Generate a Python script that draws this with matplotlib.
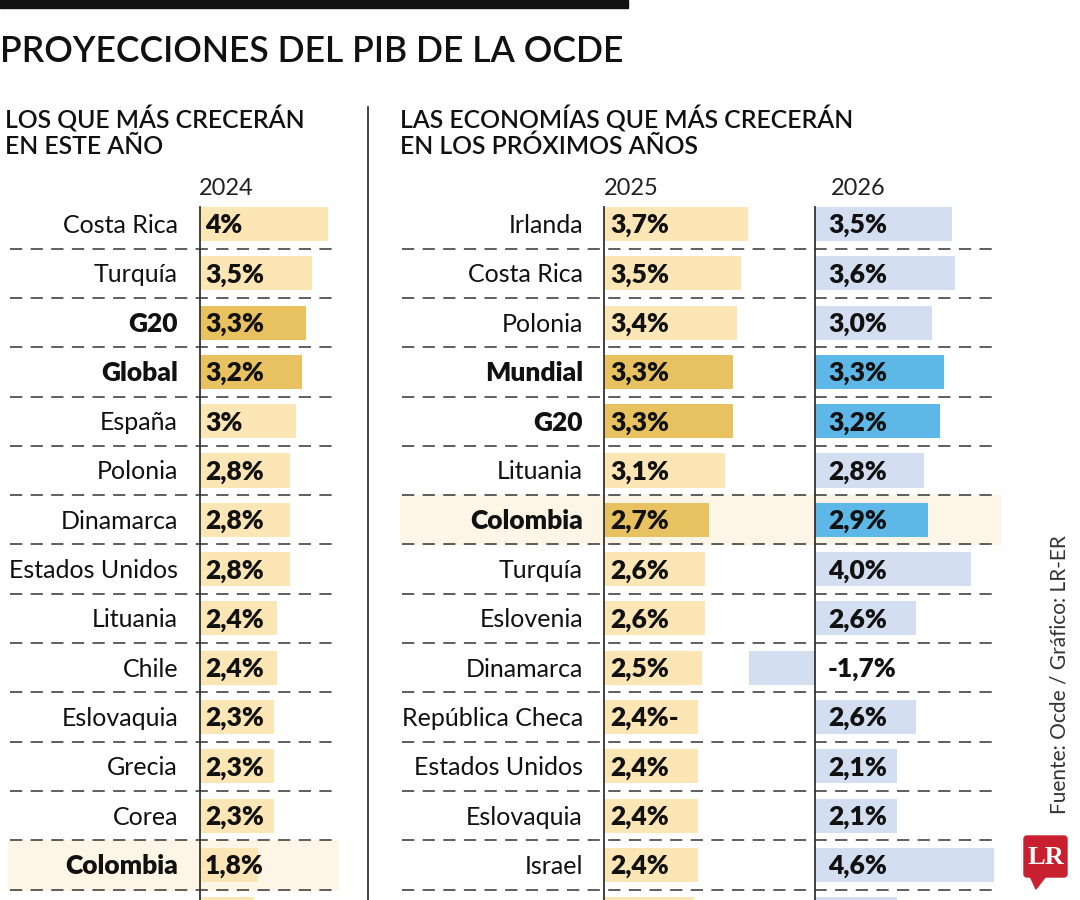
import matplotlib.pyplot as plt
from matplotlib import transforms
from matplotlib.patches import FancyBboxPatch, Polygon, Rectangle

plt.rcParams['font.family'] = ['Lato', 'DejaVu Sans']

# ---- data ----
left_names = ["Costa Rica", "Turquía", "G20", "Global", "España", "Polonia", "Dinamarca",
              "Estados Unidos", "Lituania", "Chile", "Eslovaquia", "Grecia", "Corea",
              "Colombia", ""]
left_2024 = [4.0, 3.5, 3.3, 3.2, 3.0, 2.8, 2.8, 2.8, 2.4, 2.4, 2.3, 2.3, 2.3, 1.8, 1.7]
left_text = ["4%", "3,5%", "3,3%", "3,2%", "3%", "2,8%", "2,8%", "2,8%", "2,4%", "2,4%",
             "2,3%", "2,3%", "2,3%", "1,8%", ""]
left_bold = ["G20", "Global", "Colombia"]
left_gold = ["G20", "Global"]

right_names = ["Irlanda", "Costa Rica", "Polonia", "Mundial", "G20", "Lituania", "Colombia",
               "Turquía", "Eslovenia", "Dinamarca", "República Checa", "Estados Unidos",
               "Eslovaquia", "Israel", ""]
right_2025 = [3.7, 3.5, 3.4, 3.3, 3.3, 3.1, 2.7, 2.6, 2.6, 2.5, 2.4, 2.4, 2.4, 2.4, 2.3]
right_2026 = [3.5, 3.6, 3.0, 3.3, 3.2, 2.8, 2.9, 4.0, 2.6, -1.7, 2.6, 2.1, 2.1, 4.6, 2.1]
text_2025 = ["3,7%", "3,5%", "3,4%", "3,3%", "3,3%", "3,1%", "2,7%", "2,6%", "2,6%", "2,5%",
             "2,4%-", "2,4%", "2,4%", "2,4%", ""]
text_2026 = ["3,5%", "3,6%", "3,0%", "3,3%", "3,2%", "2,8%", "2,9%", "4,0%", "2,6%", "-1,7%",
             "2,6%", "2,1%", "2,1%", "4,6%", ""]
right_bold = ["Mundial", "G20", "Colombia"]
right_gold = ["Mundial", "G20", "Colombia"]

# ---- colours ----
PALE_ORANGE = "#fde6b6"
GOLD = "#e8c160"
PALE_BLUE = "#d4def1"
BLUE = "#5db7e7"
ROW_HL = "#fdf6e6"
DASH = "#333333"
INK = "#111111"

W, H = 1080, 900
fig = plt.figure(figsize=(10.8, 9), dpi=100)
bg = fig.add_axes([0, 0, 1, 1])
bg.set_xlim(0, W)
bg.set_ylim(H, 0)
bg.axis('off')

ROW0 = 224      # pixel centre of first row
PITCH = 49.3    # pixel distance between rows


def panel(x0, scale, xmin, xmax):
    left = x0 + xmin * scale
    width = (xmax - xmin) * scale
    top = ROW0 - 0.5 * PITCH
    ax = fig.add_axes([left / W, 0, width / W, (H - top) / H])
    ax.set_xlim(xmin, xmax)
    ax.set_ylim((H - ROW0) / PITCH, -0.5)
    ax.axis('off')
    return ax


ax_l = panel(200, 32, 0, 4.5)
ax_a = panel(604, 39, 0, 5)
ax_b = panel(815, 39, -2, 5)

rows = list(range(len(left_names)))
BAR_H = 0.69


def row_decor(ax, names, bold, label_x, x_from, x_to):
    blend = transforms.blended_transform_factory(bg.transData, ax.transData)
    for i, name in enumerate(names):
        if name == "Colombia":
            ax.add_patch(Rectangle((x_from, i - 0.5), x_to - x_from, 1, transform=blend,
                                   color=ROW_HL, zorder=0, clip_on=False))
        if name in bold:
            ax.text(label_x, i + 0.03, name, transform=blend, ha='right', va='center',
                    fontsize=19, weight='heavy', color=INK)
        else:
            ax.text(label_x, i + 0.03, name, transform=blend, ha='right', va='center',
                    fontsize=18, weight='normal', color=INK)
        if i < len(names) - 1:
            ax.plot([x_from + 2, x_to], [i + 0.5, i + 0.5], transform=blend, color=DASH,
                    lw=1.1, dashes=(8, 5.5), clip_on=False, zorder=1)


row_decor(ax_l, left_names, left_bold, 178, 8, 338)
row_decor(ax_a, right_names, right_bold, 583, 400, 1000)

# bars
ax_l.barh(rows, left_2024, height=BAR_H, zorder=2,
          color=[GOLD if n in left_gold else PALE_ORANGE for n in left_names])
ax_a.barh(rows, right_2025, height=BAR_H, zorder=2,
          color=[GOLD if n in right_gold else PALE_ORANGE for n in right_names])
ax_b.barh(rows, right_2026, height=BAR_H, zorder=2,
          color=[BLUE if n in right_gold else PALE_BLUE for n in right_names])

for ax, texts, pad in [(ax_l, left_text, 5), (ax_a, text_2025, 6), (ax_b, text_2026, 13)]:
    off = transforms.offset_copy(ax.transData, fig=fig, x=pad * 0.72, y=0, units='points')
    for i, t in enumerate(texts):
        ax.text(0, i + 0.03, t, transform=off, ha='left', va='center', fontsize=19,
                weight='heavy', color=INK, zorder=4)
    ax.plot([0, 0], [-0.35, len(texts)], color='#333333', lw=1.3, zorder=3, clip_on=False)

# ---- titles and frame ----
bg.add_patch(Rectangle((0, 0), 628, 8, color=INK))
bg.text(0, 62, "PROYECCIONES DEL PIB DE LA OCDE", fontsize=25.6, weight='semibold',
        va='baseline', ha='left', color=INK)
bg.text(5, 128, "LOS QUE MÁS CRECERÁN", fontsize=17.8, weight='semibold', va='baseline',
        color=INK)
bg.text(5, 154, "EN ESTE AÑO", fontsize=17.8, weight='semibold', va='baseline', color=INK)
bg.text(400, 128, "LAS ECONOMÍAS QUE MÁS CRECERÁN", fontsize=17.8, weight='semibold',
        va='baseline', color=INK)
bg.text(400, 154, "EN LOS PRÓXIMOS AÑOS", fontsize=17.8, weight='semibold', va='baseline',
        color=INK)
bg.plot([368, 368], [107, 900], color='#222222', lw=1.2)

for x, yr in [(226, "2024"), (631, "2025"), (858, "2026")]:
    bg.text(x, 195, yr, fontsize=17, weight='normal', ha='center', va='baseline',
            color='#222222')

bg.text(1060, 675, "Fuente: Ocde / Gráfico: LR-ER", rotation=90, fontsize=15,
        weight='normal', ha='center', va='center', color='#333333')

# LR logo
bg.add_patch(FancyBboxPatch((1024, 836), 43, 41, boxstyle="round,pad=0,rounding_size=3",
                            color='#c8202f'))
bg.add_patch(Polygon([[1030, 876], [1046, 876], [1036, 889]], closed=True, color='#c8202f'))
bg.text(1045.5, 857, "LR", family='Liberation Serif', weight='bold', fontsize=19,
        color='white', ha='center', va='center')

fig.savefig('out.png', dpi=100)
